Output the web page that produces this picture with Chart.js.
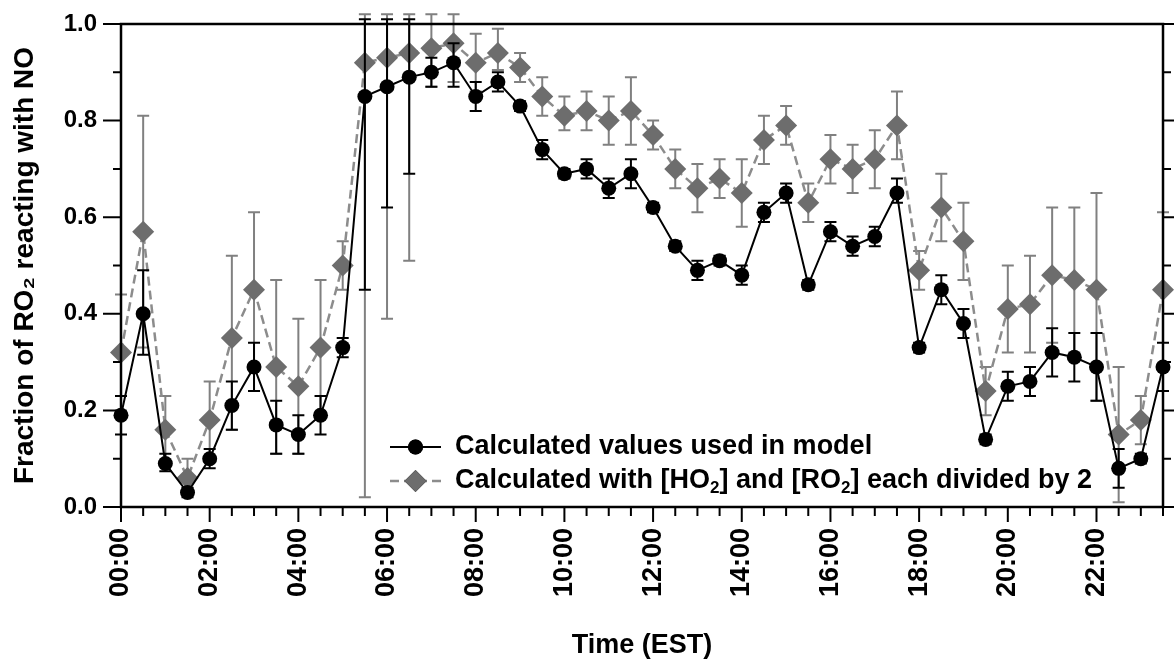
<!DOCTYPE html>
<html>
<head>
<meta charset="utf-8">
<title>Fraction of RO2 reacting with NO</title>
<script src="https://cdn.jsdelivr.net/npm/chart.js@4.4.1/dist/chart.umd.min.js"></script>
<style>
  html, body { margin: 0; padding: 0; background: #fff; }
  #wrap { width: 1174px; height: 662px; position: relative; }
</style>
</head>
<body>
<div id="wrap"><canvas id="ro2-chart"></canvas></div>
<script>
// half-hourly bins, EST
const times = ['00:00','00:30','01:00','01:30','02:00','02:30','03:00','03:30','04:00','04:30','05:00','05:30',
               '06:00','06:30','07:00','07:30','08:00','08:30','09:00','09:30','10:00','10:30','11:00','11:30',
               '12:00','12:30','13:00','13:30','14:00','14:30','15:00','15:30','16:00','16:30','17:00','17:30',
               '18:00','18:30','19:00','19:30','20:00','20:30','21:00','21:30','22:00','22:30','23:00','23:30'];
const xTickLabels = ['00:00','02:00','04:00','06:00','08:00','10:00','12:00','14:00','16:00','18:00','20:00','22:00'];
const yTickLabels = ['0.0','0.2','0.4','0.6','0.8','1.0'];

// calculated values used in model
const modelValues = [0.19,0.40,0.09,0.03,0.10,0.21,0.29,0.17,0.15,0.19,0.33,0.85,
                     0.87,0.89,0.90,0.92,0.85,0.88,0.83,0.74,0.69,0.70,0.66,0.69,
                     0.62,0.54,0.49,0.51,0.48,0.61,0.65,0.46,0.57,0.54,0.56,0.65,
                     0.33,0.45,0.38,0.14,0.25,0.26,0.32,0.31,0.29,0.08,0.10,0.29];
const modelHigh = [0.23,0.49,0.11,0.04,0.12,0.26,0.34,0.22,0.19,0.23,0.35,1.01,
                   1.01,1.01,0.93,0.96,0.88,0.90,0.84,0.76,0.70,0.72,0.68,0.72,
                   0.63,0.55,0.51,0.52,0.50,0.63,0.67,0.47,0.59,0.56,0.58,0.68,
                   0.34,0.48,0.41,0.15,0.28,0.29,0.37,0.36,0.36,0.12,0.11,0.34];
const modelLow = [0.15,0.315,0.074,0.02,0.08,0.16,0.24,0.11,0.11,0.15,0.31,0.45,
                  0.62,0.69,0.87,0.87,0.82,0.86,0.82,0.72,0.68,0.68,0.64,0.66,
                  0.61,0.53,0.47,0.50,0.46,0.59,0.63,0.45,0.55,0.52,0.54,0.63,
                  0.32,0.42,0.35,0.13,0.22,0.23,0.27,0.26,0.22,0.04,0.09,0.24];

// calculated with [HO2] and [RO2] each divided by 2
const halvedValues = [0.32,0.57,0.16,0.06,0.18,0.35,0.45,0.29,0.25,0.33,0.50,0.92,
                      0.93,0.94,0.95,0.96,0.92,0.94,0.91,0.85,0.81,0.82,0.80,0.82,
                      0.77,0.70,0.66,0.68,0.65,0.76,0.79,0.63,0.72,0.70,0.72,0.79,
                      0.49,0.62,0.55,0.24,0.41,0.42,0.48,0.47,0.45,0.15,0.18,0.45];
const halvedHigh = [0.44,0.81,0.23,0.10,0.26,0.52,0.61,0.47,0.39,0.47,0.55,1.02,
                    1.02,1.02,1.02,1.02,0.98,0.99,0.94,0.89,0.85,0.86,0.85,0.89,
                    0.80,0.74,0.71,0.72,0.72,0.81,0.83,0.67,0.77,0.75,0.78,0.86,
                    0.53,0.69,0.63,0.29,0.50,0.52,0.62,0.62,0.65,0.29,0.23,0.61];
const halvedLow = [0.20,0.33,0.09,0.03,0.10,0.16,0.24,0.11,0.11,0.19,0.45,0.02,
                   0.39,0.51,0.87,0.88,0.86,0.905,0.88,0.81,0.78,0.78,0.75,0.75,
                   0.74,0.66,0.61,0.64,0.58,0.71,0.75,0.59,0.67,0.65,0.66,0.72,
                   0.45,0.55,0.47,0.19,0.32,0.32,0.34,0.32,0.22,0.01,0.13,0.29];

const FONT = "'Liberation Sans', Arial, Helvetica, sans-serif";

// vertical error bars with caps, drawn just under each dataset's own markers
const errorBars = {
  id: 'errorBars',
  beforeDatasetDraw(chart, args) {
    const ds = chart.data.datasets[args.index];
    if (!ds.errHigh) return;
    const ctx = chart.ctx;
    const y = chart.scales.y;
    ctx.save();
    ctx.strokeStyle = ds.errColor;
    ctx.lineWidth = 2;
    args.meta.data.forEach((pt, i) => {
      const yh = y.getPixelForValue(ds.errHigh[i]);
      const yl = y.getPixelForValue(ds.errLow[i]);
      ctx.beginPath();
      ctx.moveTo(pt.x, yh); ctx.lineTo(pt.x, yl);
      ctx.moveTo(pt.x - 6, yh); ctx.lineTo(pt.x + 6, yh);
      ctx.moveTo(pt.x - 6, yl); ctx.lineTo(pt.x + 6, yl);
      ctx.stroke();
    });
    ctx.restore();
  }
};

// box round the plot plus outward ticks (major/minor)
const frame = {
  id: 'frame',
  afterDraw(chart) {
    const {ctx, chartArea: a, scales: {x, y}} = chart;
    ctx.save();
    ctx.strokeStyle = '#000';
    ctx.lineWidth = 2.5;
    ctx.strokeRect(a.left, a.top, a.right - a.left, a.bottom - a.top);
    ctx.lineWidth = 2;
    ctx.beginPath();
    y.ticks.forEach(t => {
      const py = y.getPixelForValue(t.value);
      const len = Math.round(t.value * 10) % 2 === 0 ? 18 : 8;
      ctx.moveTo(a.left - len, py); ctx.lineTo(a.left, py);
      ctx.moveTo(a.right, py); ctx.lineTo(a.right + len, py);
    });
    x.ticks.forEach((t, i) => {
      const px = x.getPixelForTick(i);
      const len = xTickLabels.includes(times[t.value]) ? 15 : 9;
      ctx.moveTo(px, a.bottom); ctx.lineTo(px, a.bottom + len);
    });
    ctx.stroke();
    ctx.restore();
  }
};

// legend inside the plot, bottom-left of centre
const insideLegend = {
  id: 'insideLegend',
  afterDraw(chart) {
    const {ctx, chartArea: a} = chart;
    const rows = [
      {ds: chart.data.datasets[0], y: a.bottom - 60,
       parts: [['Calculated values used in model', false]]},
      {ds: chart.data.datasets[1], y: a.bottom - 26,
       parts: [['Calculated with [HO', false], ['2', true], ['] and [RO', false], ['2', true], ['] each divided by 2', false]]}
    ];
    const x0 = a.left + 269, x1 = a.left + 320, xm = (x0 + x1) / 2, xt = a.left + 334;
    ctx.save();
    rows.forEach(r => {
      ctx.strokeStyle = r.ds.borderColor;
      ctx.lineWidth = r.ds.borderWidth;
      ctx.setLineDash(r.ds.borderDash || []);
      ctx.beginPath(); ctx.moveTo(x0, r.y); ctx.lineTo(x1, r.y); ctx.stroke();
      ctx.setLineDash([]);
      Chart.helpers.drawPoint(ctx, {pointStyle: r.ds.pointStyle, radius: r.ds.pointRadius, borderWidth: 0}, xm, r.y);
      ctx.fillStyle = r.ds.pointBackgroundColor;
      ctx.fill();
      ctx.fillStyle = '#000';
      ctx.textBaseline = 'middle';
      let tx = xt;
      r.parts.forEach(([txt, sub]) => {
        ctx.font = (sub ? 'bold 17px ' : 'bold 27px ') + FONT;
        ctx.fillText(txt, tx, r.y + (sub ? 7 : 0));
        tx += ctx.measureText(txt).width;
      });
    });
    ctx.restore();
  }
};

new Chart(document.querySelector('#ro2-chart').getContext('2d'), {
  type: 'line',
  data: {
    labels: times,
    datasets: [
      {
        label: 'Calculated values used in model',
        data: modelValues,
        errHigh: modelHigh, errLow: modelLow, errColor: '#000',
        borderColor: '#000', borderWidth: 2,
        pointStyle: 'circle', pointRadius: 7.5, pointBorderWidth: 0,
        pointBackgroundColor: '#000',
        clip: false
      },
      {
        label: 'Calculated with [HO2] and [RO2] each divided by 2',
        data: halvedValues,
        errHigh: halvedHigh, errLow: halvedLow, errColor: '#808080',
        borderColor: '#8c8c8c', borderWidth: 2.5, borderDash: [9, 5],
        pointStyle: 'rectRot', pointRadius: 11, pointBorderWidth: 0,
        pointBackgroundColor: '#6d6d6d',
        clip: false
      }
    ]
  },
  options: {
    responsive: true,
    maintainAspectRatio: false,
    animation: false,
    layout: { padding: { top: 24, right: 8, left: 0, bottom: 0 } },
    plugins: { legend: { display: false }, tooltip: { enabled: false } },
    elements: { line: { tension: 0 } },
    scales: {
      x: {
        type: 'category',
        offset: false,
        grid: { display: false, drawTicks: false },
        border: { display: false },
        ticks: {
          autoSkip: false, minRotation: 90, maxRotation: 90, padding: 21,
          color: '#000', font: { family: FONT, size: 27, weight: 'bold' },
          callback(v, i) { return xTickLabels.includes(times[i]) ? times[i] : ''; }
        },
        title: { display: true, text: 'Time (EST)', color: '#000', padding: { top: 0, bottom: 0 },
                 font: { family: FONT, size: 27, weight: 'bold' } },
        afterFit(s) { s.height = 155; s.paddingLeft = 0; s.paddingRight = 0; }
      },
      y: {
        min: 0, max: 1,
        grid: { display: false, drawTicks: false },
        border: { display: false },
        ticks: {
          stepSize: 0.1, padding: 24, color: '#000',
          font: { family: FONT, size: 24, weight: 'bold' },
          callback(v) { const s = v.toFixed(1); return yTickLabels.includes(s) && Math.round(v * 10) % 2 === 0 ? s : ''; }
        },
        title: { display: true, text: 'Fraction of RO\u2082 reacting with NO', color: '#000',
                 padding: { top: 8, bottom: 0 }, font: { family: FONT, size: 28, weight: 'bold' } },
        afterFit(s) { s.width = 121; s.paddingTop = 0; s.paddingBottom = 0; }
      }
    }
  },
  plugins: [errorBars, frame, insideLegend]
});
</script>
</body>
</html>
